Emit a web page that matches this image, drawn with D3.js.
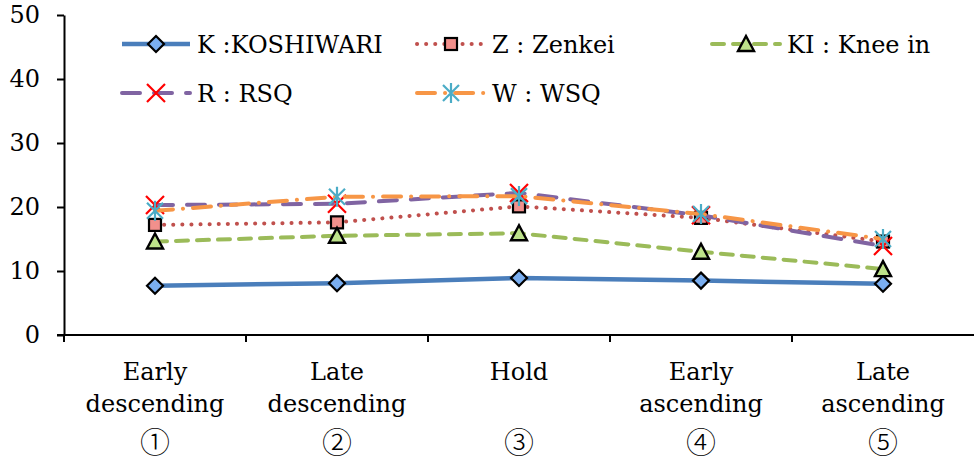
<!DOCTYPE html>
<html>
<head>
<meta charset="utf-8">
<script src="https://cdn.jsdelivr.net/npm/d3@7"></script>
<style>
  body { margin: 0; background: #fff; }
  svg text { font-family: "DejaVu Serif", "Liberation Serif", serif; fill: #000; }
</style>
</head>
<body>
<svg id="chart" width="974" height="461"></svg>
<script>
// phases on the x axis
const categories = ["Early descending", "Late descending", "Hold", "Early ascending", "Late ascending"];
const catLines = [["Early", "descending"], ["Late", "descending"], ["Hold", ""], ["Early", "ascending"], ["Late", "ascending"]];
const catMarks = ["\u2460", "\u2461", "\u2462", "\u2463", "\u2464"];
const yTicks = [0, 10, 20, 30, 40, 50];

// series values
const koshiwari = [7.7, 8.1, 8.9, 8.5, 8.0];
const zenkei = [17.2, 17.6, 20.1, 18.3, 14.6];
const kneeIn = [14.6, 15.5, 15.9, 13.0, 10.3];
const rsq = [20.3, 20.5, 22.2, 18.7, 13.9];
const wsq = [19.4, 21.6, 21.7, 18.9, 15.0];

const series = [
  {key: "K", label: "K :KOSHIWARI", values: koshiwari, color: "#4a7ebb", dash: null, cap: "butt", marker: "diamond"},
  {key: "Z", label: "Z : Zenkei", values: zenkei, color: "#c0504d", dash: "0.1 9", cap: "round", marker: "square"},
  {key: "KI", label: "KI : Knee in", values: kneeIn, color: "#9bbb59", dash: "12 9", cap: "round", marker: "triangle"},
  {key: "R", label: "R : RSQ", values: rsq, color: "#8064a2", dash: "18 14", cap: "round", marker: "cross"},
  {key: "W", label: "W : WSQ", values: wsq, color: "#f79646", dash: "18 10 0.1 10", cap: "round", marker: "asterisk"}
];

const margin = {top: 15, right: 0, bottom: 125, left: 64};
const width = 974, height = 461;
const svg = d3.select("#chart");

const x = d3.scaleBand()
    .domain(categories)
    .range([margin.left, width])
    .paddingInner(0).paddingOuter(0);
const cx = d => x(d) + x.bandwidth() / 2;

const y = d3.scaleLinear()
    .domain([0, 50])
    .range([height - margin.bottom - 1, margin.top]);

// y axis
const yaxis = d3.axisLeft(y).tickValues(yTicks).tickSize(7).tickSizeOuter(0).tickPadding(17);
const yg = svg.append("g")
    .attr("transform", `translate(${margin.left}, 0)`)
    .call(yaxis);
yg.select(".domain").attr("stroke", "#000").attr("stroke-width", 2);
yg.selectAll(".tick line").attr("stroke", "#000").attr("stroke-width", 2);
yg.selectAll(".tick text").attr("font-size", 24).attr("font-family", "DejaVu Serif");

// x axis with ticks at category boundaries
const y0 = y(0);
const xg = svg.append("g");
xg.append("line")
    .attr("x1", margin.left - 7).attr("x2", width)
    .attr("y1", y0).attr("y2", y0)
    .attr("stroke", "#000").attr("stroke-width", 2);
const bounds = categories.map(c => x(c));
xg.selectAll("line.tk")
    .data(bounds)
    .join("line")
    .attr("class", "tk")
    .attr("x1", d => d).attr("x2", d => d)
    .attr("y1", y0).attr("y2", y0 + 7)
    .attr("stroke", "#000").attr("stroke-width", 2);

const labels = xg.selectAll("g.lab")
    .data(categories)
    .join("g")
    .attr("class", "lab")
    .attr("transform", d => `translate(${cx(d)}, 0)`);
labels.append("text")
    .attr("y", 380).attr("text-anchor", "middle").attr("font-size", 24)
    .text((d, i) => catLines[i][0]);
labels.append("text")
    .attr("y", 412).attr("text-anchor", "middle").attr("font-size", 24)
    .text((d, i) => catLines[i][1]);
labels.append("text")
    .attr("y", 453).attr("text-anchor", "middle").attr("font-size", 30)
    .style("font-family", "'Noto Sans CJK JP'")
    .style("font-weight", 300)
    .text((d, i) => catMarks[i]);

function drawMarker(g, type) {
  if (type === "diamond") {
    g.append("path").attr("d", "M0,-8L8,0L0,8L-8,0Z")
      .attr("fill", "#7aaef0").attr("stroke", "#000").attr("stroke-width", 2.2);
  } else if (type === "square") {
    g.append("rect").attr("x", -6).attr("y", -6).attr("width", 12).attr("height", 12)
      .attr("fill", "#f2908c").attr("stroke", "#000").attr("stroke-width", 2.2);
  } else if (type === "triangle") {
    g.append("path").attr("d", "M0,-8L8,7L-8,7Z")
      .attr("fill", "#bde28a").attr("stroke", "#000").attr("stroke-width", 2.4);
  } else if (type === "cross") {
    g.append("path").attr("d", "M-9,-9L9,9M-9,9L9,-9")
      .attr("stroke", "#ff0000").attr("stroke-width", 2.2);
  } else if (type === "asterisk") {
    g.append("path").attr("d", "M-8,-8L8,8M-8,8L8,-8M0,-10L0,10")
      .attr("stroke", "#4bacc6").attr("stroke-width", 2.2);
  }
}

const line = d3.line()
    .x((d, i) => cx(categories[i]))
    .y(d => y(d));

series.forEach(s => {
  svg.append("path")
      .datum(s.values)
      .attr("d", line)
      .attr("fill", "none")
      .attr("stroke", s.color)
      .attr("stroke-width", s.key === "K" ? 4.5 : 4)
      .attr("stroke-dasharray", s.dash)
      .attr("stroke-linecap", s.cap);
  s.values.forEach((v, i) => {
    const g = svg.append("g").attr("transform", `translate(${cx(categories[i])}, ${y(v)})`);
    drawMarker(g, s.marker);
  });
});

// legend
const legendPos = [[120, 44], [415, 44], [710, 44], [120, 93], [415, 93]];
series.forEach((s, i) => {
  const [lx, ly] = legendPos[i];
  const lg = svg.append("g").attr("transform", `translate(${lx}, ${ly})`);
  lg.append("line")
      .attr("x1", 2).attr("x2", 70).attr("y1", 0).attr("y2", 0)
      .attr("stroke", s.color).attr("stroke-width", s.key === "K" ? 4.5 : 4)
      .attr("stroke-dasharray", s.dash).attr("stroke-linecap", s.cap);
  const mg = lg.append("g").attr("transform", "translate(36, 0)");
  drawMarker(mg, s.marker);
  lg.append("text")
      .attr("x", 77).attr("y", 9).attr("font-size", 24)
      .text(s.label);
});
</script>
</body>
</html>
